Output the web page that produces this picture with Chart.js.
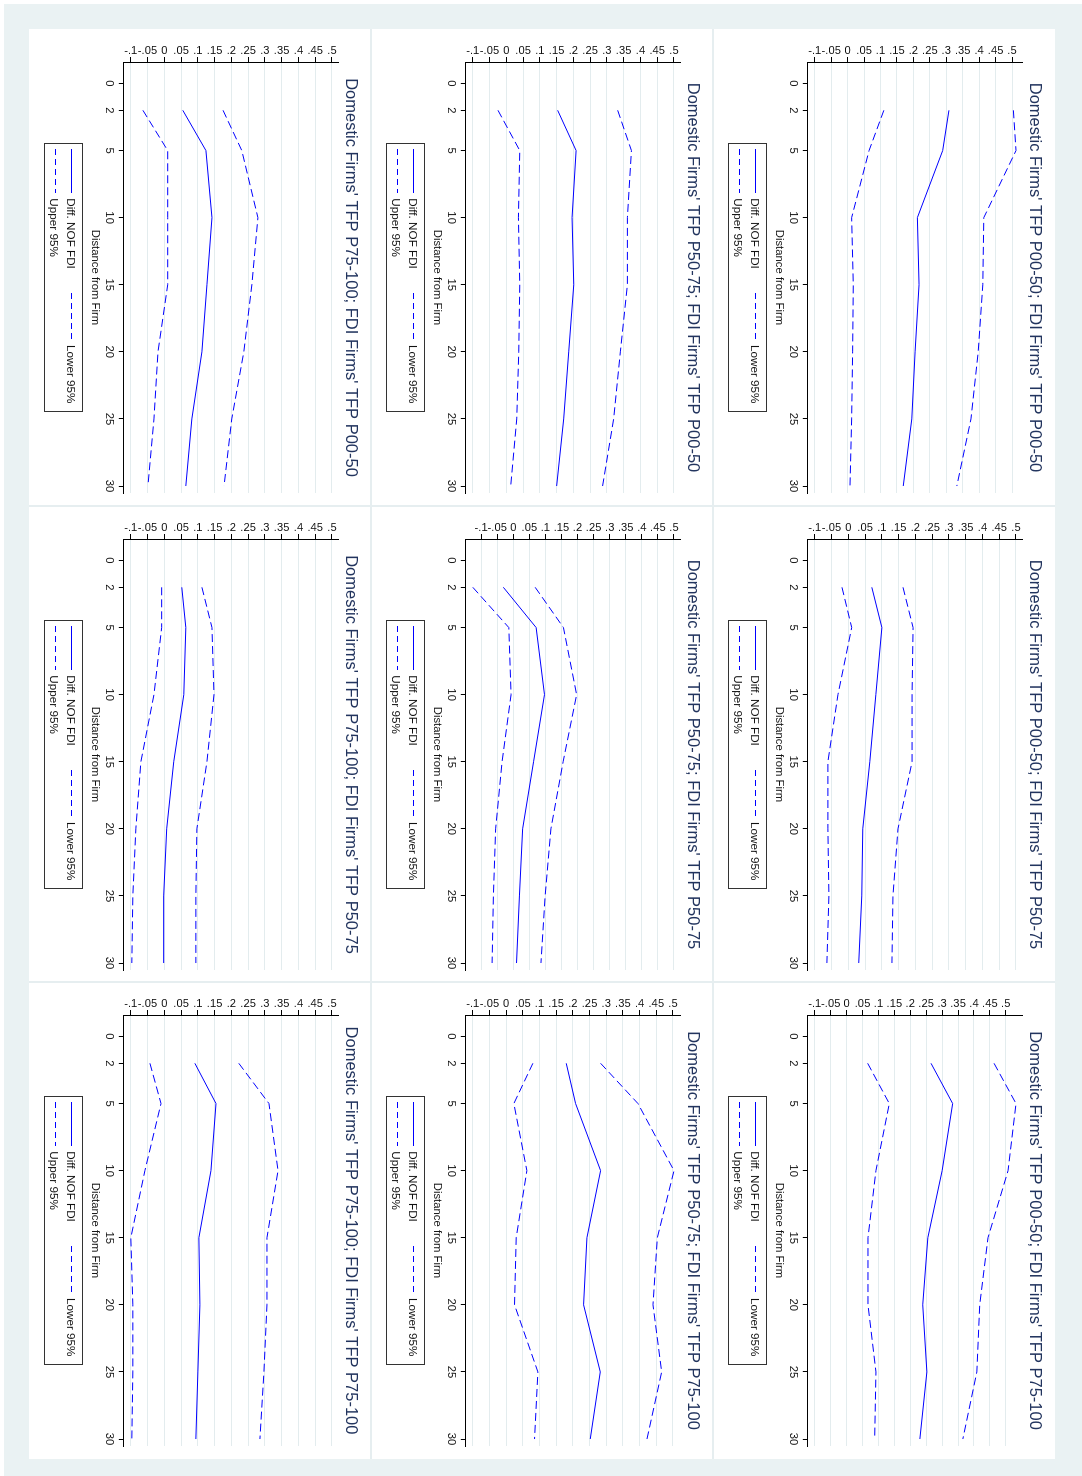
<!DOCTYPE html>
<html>
<head>
<meta charset="utf-8">
<script src="https://cdn.jsdelivr.net/npm/chart.js@4.4.1/dist/chart.umd.min.js"></script>
<style>
  html, body { margin: 0; padding: 0; background: #fff; }
  body { width: 1082px; height: 1476px; position: relative; overflow: hidden; font-family: "Liberation Sans", Arial, Helvetica, sans-serif; }
  #frame { position: absolute; left: 4px; top: 4px; width: 1078px; height: 1472px; background: #eaf2f3; }
  /* the whole figure is laid out upright, then turned a quarter clockwise */
  #sheet { position: absolute; left: 1082px; top: 0; width: 1476px; height: 1082px; transform-origin: 0 0; transform: rotate(90deg); }
  #white { position: absolute; left: 29px; top: 27px; width: 1430px; height: 1026px; background: #fff; }
  .sep { position: absolute; background: #e6eef0; }
  .panel { position: absolute; width: 477px; height: 342px; }
  .panel canvas { position: absolute; left: 0; top: 0; }
  .legend { position: absolute; left: 114.3px; top: 287.7px; width: 268.4px; height: 39.3px; border: 1px solid #333; box-sizing: border-box; font-size: 11.7px; color: #111; }
  .legend .item { position: absolute; white-space: nowrap; line-height: 13px; }
  .legend svg { position: absolute; overflow: visible; }
</style>
</head>
<body>
<div id="frame"></div>
<div id="sheet"><div id="white"></div></div>
<script>
const domesticGroups = ["P00-50", "P50-75", "P75-100"];
const fdiGroups = ["P00-50", "P50-75", "P75-100"];
const seriesNames = ["Diff. NOF FDI", "Lower 95%", "Upper 95%"];
const distances = [2, 5, 10, 15, 20, 25, 30];
const distanceTicks = [0, 2, 5, 10, 15, 20, 25, 30];
const valueTicks = [-0.1, -0.05, 0, 0.05, 0.1, 0.15, 0.2, 0.25, 0.3, 0.35, 0.4, 0.45, 0.5];
const valueTickLabels = ["-.1", "-.05", "0", ".05", ".1", ".15", ".2", ".25", ".3", ".35", ".4", ".45", ".5"];

// Domestic P00-50
const diffD1F1 = [0.308, 0.289, 0.212, 0.217, 0.205, 0.195, 0.169];
const lowD1F1 = [0.110, 0.065, 0.012, 0.017, 0.015, 0.012, 0.007];
const upD1F1 = [0.504, 0.512, 0.414, 0.411, 0.397, 0.375, 0.332];
const diffD1F2 = [0.070, 0.100, 0.082, 0.064, 0.043, 0.040, 0.031];
const lowD1F2 = [-0.019, 0.010, -0.031, -0.061, -0.061, -0.058, -0.064];
const upD1F2 = [0.163, 0.193, 0.190, 0.190, 0.148, 0.133, 0.130];
const diffD1F3 = [0.265, 0.333, 0.300, 0.255, 0.239, 0.252, 0.230];
const lowD1F3 = [0.066, 0.134, 0.092, 0.067, 0.067, 0.092, 0.088];
const upD1F3 = [0.463, 0.532, 0.507, 0.444, 0.418, 0.409, 0.365];

// Domestic P50-75
const diffD2F1 = [0.153, 0.208, 0.196, 0.201, 0.186, 0.171, 0.150];
const lowD2F1 = [-0.025, 0.040, 0.036, 0.040, 0.037, 0.031, 0.013];
const upD2F1 = [0.332, 0.373, 0.361, 0.361, 0.340, 0.320, 0.287];
const diffD2F2 = [-0.031, 0.071, 0.097, 0.063, 0.029, 0.019, 0.010];
const lowD2F2 = [-0.126, -0.014, -0.007, -0.035, -0.055, -0.062, -0.066];
const upD2F2 = [0.068, 0.156, 0.197, 0.155, 0.117, 0.099, 0.086];
const diffD2F3 = [0.180, 0.208, 0.283, 0.242, 0.232, 0.282, 0.252];
const lowD2F3 = [0.080, 0.023, 0.062, 0.030, 0.025, 0.095, 0.085];
const upD2F3 = [0.283, 0.395, 0.503, 0.453, 0.440, 0.466, 0.422];

// Domestic P75-100
const diffD3F1 = [0.055, 0.124, 0.142, 0.127, 0.112, 0.082, 0.064];
const lowD3F1 = [-0.064, 0.010, 0.010, 0.010, -0.019, -0.031, -0.049];
const upD3F1 = [0.175, 0.231, 0.279, 0.261, 0.237, 0.201, 0.178];
const diffD3F2 = [0.052, 0.064, 0.058, 0.028, 0.007, -0.002, -0.002];
const lowD3F2 = [-0.008, -0.008, -0.031, -0.070, -0.085, -0.094, -0.097];
const upD3F2 = [0.112, 0.142, 0.148, 0.127, 0.097, 0.094, 0.094];
const diffD3F3 = [0.091, 0.154, 0.139, 0.103, 0.106, 0.100, 0.094];
const lowD3F3 = [-0.043, -0.010, -0.058, -0.100, -0.094, -0.094, -0.097];
const upD3F3 = [0.222, 0.312, 0.339, 0.306, 0.306, 0.297, 0.285];

const diffs = [[diffD1F1, diffD1F2, diffD1F3], [diffD2F1, diffD2F2, diffD2F3], [diffD3F1, diffD3F2, diffD3F3]];
const lows = [[lowD1F1, lowD1F2, lowD1F3], [lowD2F1, lowD2F2, lowD2F3], [lowD3F1, lowD3F2, lowD3F3]];
const ups = [[upD1F1, upD1F2, upD1F3], [upD2F1, upD2F2, upD2F3], [upD3F1, upD3F2, upD3F3]];

const FONT = '"Liberation Sans", Arial, Helvetica, sans-serif';
const LINE = "#0000ff";
const DASH = [8, 4];
const colX = [29, 506, 982];
const rowY = [27, 369, 711];

const sheet = document.getElementById("sheet");

// Stata-style value labels, turned on their side
const sideValueLabels = {
    id: "sideValueLabels",
    afterDraw(chart) {
        const y = chart.scales.y;
        const ctx = chart.ctx;
        ctx.save();
        ctx.font = "11.3px " + FONT;
        ctx.fillStyle = "#111";
        ctx.textAlign = "center";
        ctx.textBaseline = "alphabetic";
        valueTicks.forEach((v, k) => {
            ctx.save();
            ctx.translate(y.right - 8.5, y.getPixelForValue(v));
            ctx.rotate(-Math.PI / 2);
            ctx.fillText(valueTickLabels[k], 0, 0);
            ctx.restore();
        });
        ctx.restore();
    }
};

const points = (vals) => distances.map((d, k) => ({ x: d, y: vals[k] }));

const legendHtml = () => `
  <div class="legend">
    <svg style="left:4.7px;top:8.1px" width="44" height="5"><line x1="0" y1="2.5" x2="44" y2="2.5" stroke="${LINE}" stroke-width="1"/></svg>
    <span class="item" style="left:54px;top:4.8px">${seriesNames[0]}</span>
    <svg style="left:148.3px;top:8.1px" width="46" height="5"><line x1="0" y1="2.5" x2="46" y2="2.5" stroke="${LINE}" stroke-width="1" stroke-dasharray="6 4"/></svg>
    <span class="item" style="left:200.7px;top:4.8px">${seriesNames[1]}</span>
    <svg style="left:4.7px;top:24.8px" width="44" height="5"><line x1="0" y1="2.5" x2="44" y2="2.5" stroke="${LINE}" stroke-width="1" stroke-dasharray="6 4"/></svg>
    <span class="item" style="left:54px;top:21.5px">${seriesNames[2]}</span>
  </div>`;

const makePanel = (i, j) => {
    const div = document.createElement("div");
    div.className = "panel";
    div.style.left = colX[j] + "px";
    div.style.top = rowY[i] + "px";
    const canvas = document.createElement("canvas");
    canvas.width = 477;
    canvas.height = 342;
    div.appendChild(canvas);
    div.insertAdjacentHTML("beforeend", legendHtml());
    sheet.appendChild(div);

    const diff = diffs[i][j], low = lows[i][j], up = ups[i][j];
    const all = diff.concat(low, up);
    const lo = Math.min(-0.1, ...all);
    const hi = Math.max(0.5, ...all);
    const pad = 7 * (hi - lo) / 201;

    new Chart(canvas, {
        type: "line",
        data: {
            datasets: [
                { label: seriesNames[0], data: points(diff), borderColor: LINE, borderWidth: 1, pointRadius: 0, tension: 0 },
                { label: seriesNames[1], data: points(low), borderColor: LINE, borderWidth: 1, pointRadius: 0, tension: 0, borderDash: DASH },
                { label: seriesNames[2], data: points(up), borderColor: LINE, borderWidth: 1, pointRadius: 0, tension: 0, borderDash: DASH },
            ],
        },
        options: {
            responsive: false,
            animation: false,
            layout: { padding: { left: 0, right: 13, top: 0, bottom: 59.5 } },
            plugins: {
                legend: { display: false },
                tooltip: { enabled: false },
                title: {
                    display: true,
                    fullSize: false,
                    text: `Domestic Firms' TFP ${domesticGroups[i]}; FDI Firms' TFP ${fdiGroups[j]}`,
                    color: "#22345e",
                    font: { family: FONT, size: 16.5, weight: "normal" },
                    padding: { top: 11, bottom: 1.2 },
                },
            },
            scales: {
                x: {
                    type: "linear",
                    min: -1.6,
                    max: 30.52,
                    afterBuildTicks: (s) => { s.ticks = distanceTicks.map((v) => ({ value: v })); },
                    afterFit: (s) => { s.height = 35.3; },
                    ticks: { autoSkip: false, maxRotation: 0, color: "#111", font: { family: FONT, size: 11.3 }, padding: 3 },
                    grid: { drawOnChartArea: false, tickLength: 5, tickColor: "#000" },
                    border: { color: "#000", width: 1 },
                    title: { display: true, text: "Distance from Firm", color: "#111", font: { family: FONT, size: 11.3 }, padding: 0 },
                },
                y: {
                    type: "linear",
                    min: lo - pad,
                    max: hi + pad,
                    afterBuildTicks: (s) => { s.ticks = valueTicks.map((v) => ({ value: v })); },
                    afterFit: (s) => { s.width = 33; },
                    ticks: { display: false },
                    grid: { color: "#e3ecee", tickLength: 5, tickColor: "#000" },
                    border: { color: "#000", width: 1 },
                },
            },
        },
        plugins: [sideValueLabels],
    });
};

// thin separators between the nine graphs (left, top, width, height)
[[505.25, 27, 1.5, 1026], [981.25, 27, 1.5, 1026], [29, 368.25, 1430, 1.5], [29, 710.25, 1430, 1.5]].forEach(([l, t, w, h]) => {
    const s = document.createElement("div");
    s.className = "sep";
    s.style.cssText = `left:${l}px;top:${t}px;width:${w}px;height:${h}px`;
    sheet.appendChild(s);
});

domesticGroups.forEach((_, i) => fdiGroups.forEach((_, j) => makePanel(i, j)));
</script>
</body>
</html>
